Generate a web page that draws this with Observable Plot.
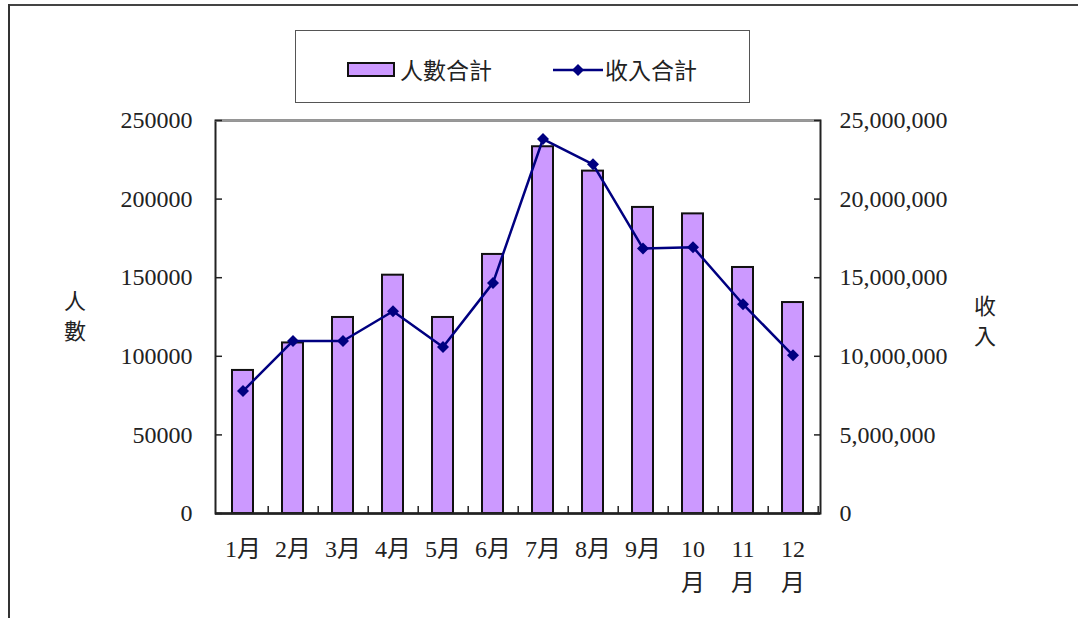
<!DOCTYPE html>
<html><head><meta charset="utf-8">
<script src="https://cdn.jsdelivr.net/npm/d3@7"></script>
<script src="https://cdn.jsdelivr.net/npm/@observablehq/plot@0.6"></script>
<style>
body{margin:0;background:#fff;}
#wrap{position:relative;width:1078px;height:618px;overflow:hidden;font-family:"Liberation Serif","Noto Sans CJK TC",serif;color:#222;background:#fff;}
#frameTop{position:absolute;left:8px;top:4px;width:1070px;height:0;border-top:2px solid #444;}
#frameLeft{position:absolute;left:8px;top:4px;width:0;height:614px;border-left:2px solid #333;}
#legend{position:absolute;left:295px;top:30px;width:455px;height:73px;border:1.5px solid #555;box-sizing:border-box;background:#fff;}
.sw{position:absolute;left:51px;top:31px;width:48px;height:15px;border:2px solid #111;box-sizing:border-box;background:#cc99ff;}
.lt{position:absolute;top:22px;font-size:23px;line-height:32px;font-family:"Noto Sans CJK TC",sans-serif;color:#222;}
.ls{position:absolute;left:256px;top:30px;}
.ytitle{position:absolute;font-size:22px;line-height:30px;font-family:"Noto Sans CJK TC",sans-serif;color:#222;}
#chart{position:absolute;left:0;top:0;}
</style></head>
<body>
<div id="wrap">
  <div id="chart"></div>
  <div id="frameTop"></div>
  <div id="frameLeft"></div>
  <div id="legend">
    <div class="sw"></div>
    <div class="lt" style="left:104px">人數合計</div>
    <svg class="ls" width="52" height="18"><line x1="1" y1="9" x2="51" y2="9" stroke="#000080" stroke-width="2.5"/><path d="M26,3 L32,9 L26,15 L20,9 Z" fill="#000080"/></svg>
    <div class="lt" style="left:309px">收入合計</div>
  </div>
  <div class="ytitle" style="left:64px;top:284px;">人<br>數</div>
  <div class="ytitle" style="left:974px;top:289px;">收<br>入</div>
</div>
<script>
const months = ["1月","2月","3月","4月","5月","6月","7月","8月","9月","10月","11月","12月"];
const monthLabels = ["1月","2月","3月","4月","5月","6月","7月","8月","9月","10\n月","11\n月","12\n月"];
const people = [91000,108500,124700,151600,124700,164800,233300,217800,194700,190600,156500,134200];
const revenue = [7790000,10975000,10975000,12866000,10594000,14670000,23822000,22210000,16860000,16943000,13312000,10064000];
const peopleTicks = [0,50000,100000,150000,200000,250000];
const revenuePerPerson = 100; // right axis (revenue) = left axis (people) x 100

const data = months.map((m,i)=>({month:m, people:people[i], revenue:revenue[i], label:monthLabels[i]}));
const labelOf = Object.fromEntries(months.map((m,i)=>[m, monthLabels[i]]));

const W = 1078, H = 618, ML = 215, MR = 258, MT = 120, MB = 105;
const halfStep = (W - ML - MR) / months.length / 2;
const font = '"Liberation Serif","Noto Sans CJK TC",serif';

const chart = Plot.plot({
  width: W, height: H,
  marginLeft: ML, marginRight: MR, marginTop: MT, marginBottom: MB,
  style: {fontFamily: font, fontSize: "24px", color: "#222", background: "transparent", overflow: "visible"},
  x: {domain: months, paddingInner: 0.58, paddingOuter: 0.29, axis: null, label: null},
  y: {domain: [0, 250000], axis: null, label: null},
  marks: [
    Plot.barY(data, {x: "month", y: "people", fill: "#cc99ff", stroke: "#111", strokeWidth: 2}),
    Plot.frame({stroke: "#222", strokeWidth: 2}),
    Plot.ruleY([250000], {stroke: "#999", strokeWidth: 2}),
    Plot.ruleY([0], {stroke: "#222", strokeWidth: 2.5}),
    Plot.line(data, {x: "month", y: d => d.revenue / revenuePerPerson, stroke: "#000080", strokeWidth: 2.5}),
    Plot.dot(data, {x: "month", y: d => d.revenue / revenuePerPerson, symbol: "diamond2", r: 5.4, fill: "#000080", stroke: "none"}),
    Plot.axisY(peopleTicks, {anchor: "left", label: null, tickSize: -7, tickPadding: 30, stroke: "#222", strokeWidth: 1.5, fontSize: 24, fill: "#222",
      tickFormat: d => String(d)}),
    Plot.axisY(peopleTicks, {anchor: "right", label: null, tickSize: -7, tickPadding: 26, stroke: "#222", strokeWidth: 1.5, fontSize: 24, fill: "#222",
      tickFormat: d => d3.format(",")(d * revenuePerPerson)}),
    Plot.axisX(months, {anchor: "bottom", label: null, tickSize: -7, text: null, dx: halfStep, stroke: "#222", strokeWidth: 1.5}),
    Plot.axisX(months, {anchor: "bottom", label: null, tickSize: 0, tickPadding: 19, lineHeight: 1.42, fontSize: 24, fill: "#222",
      tickFormat: d => labelOf[d]})
  ]
});
document.getElementById("chart").appendChild(chart);
</script>
</body></html>
